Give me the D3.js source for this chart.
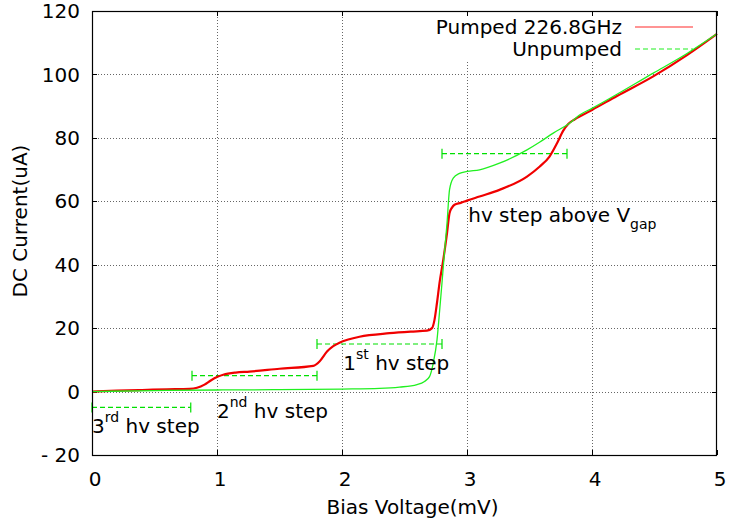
<!DOCTYPE html>
<html><head><meta charset="utf-8">
<script src="https://cdn.jsdelivr.net/npm/d3@7"></script>
<style>
html,body{margin:0;padding:0;background:#fff;}
svg text{font-family:"DejaVu Sans",sans-serif;fill:#000;}
</style></head>
<body><svg id="chart" width="729" height="523"></svg>
<script>
// ---- data ----
const pumpedV = [0,0.2,0.4,0.6,0.78,0.84,0.9,0.95,1.0,1.05,1.15,1.26,1.5,1.77,1.82,1.88,1.93,1.98,2.05,2.14,2.38,2.55,2.68,2.72,2.74,2.76,2.78,2.81,2.84,2.86,2.88,2.9,2.95,3.0,3.1,3.26,3.48,3.58,3.66,3.72,3.77,3.81,3.86,3.92,4.0,4.2,4.49,4.76,5.0];
const pumpedI = [0,0.3,0.5,0.7,0.85,1.2,2.2,3.5,4.6,5.3,6.0,6.3,7.2,8.1,9.5,12.6,14.3,15.4,16.4,17.3,18.4,18.9,19.2,20,22.6,28,34.2,41.5,49.9,56.2,58,58.9,59.5,60.2,61.5,63.6,67.8,70.9,74.1,78.3,82.3,84.4,85.8,87.1,88.8,93.2,99.4,106.1,112.8];
const unpumpedV = [0,0.5,1.0,1.5,2.0,2.3,2.46,2.6,2.66,2.7,2.73,2.76,2.78,2.8,2.82,2.84,2.86,2.89,2.94,3.0,3.1,3.26,3.48,3.58,3.69,3.82,3.9,4.0,4.49,4.76,5.0];
const unpumpedI = [0,0.3,0.5,0.6,0.8,1.0,1.4,2.2,3.2,4.7,9,16.3,25,34.3,44,53,63.6,67.3,68.8,69.4,69.9,72,76.2,78.6,81.5,84.6,87.2,89.3,100.4,106.6,112.8];
const seriesNames = ["Pumped 226.8GHz","Unpumped"];
const xTicks = [0,1,2,3,4,5];
const yTicks = [-20,0,20,40,60,80,100,120];
const yTickLabels = ["- 20","0","20","40","60","80","100","120"];
// step bars (start V, end V, current)
const barStart = [0,0.8,1.8,2.8];
const barEnd = [0.79,1.8,2.8,3.8];
const barLevel = [-5,5,15,75];
// annotation labels: main text, superscript/subscript, trailing text, anchor V, anchor I
const labelMain = ["3","2","1","hv step above V"];
const labelScript = ["rd","nd","st","gap"];
const labelTail = [" hv step"," hv step"," hv step",""];
const labelV = [0,1.0,2.01,3.01];
const labelI = [-13.1,-8.4,6.8,53.6];

// ---- layout ----
const svg = d3.select("#chart");
const L=92,R=717,T=11,B=455;
const x = d3.scaleLinear().domain([0,5]).range([L,R]);
const y = d3.scaleLinear().domain([-20,120]).range([B,T]);
const FS = 20;

// grid
const grid = svg.append("g").attr("stroke","#666").attr("stroke-width",1).attr("stroke-dasharray","1,2");
xTicks.slice(1,-1).forEach(v=>grid.append("line").attr("x1",x(v)+0.5).attr("x2",x(v)+0.5).attr("y1",T).attr("y2",B));
yTicks.slice(1,-1).forEach(v=>grid.append("line").attr("y1",Math.round(y(v))+0.5).attr("y2",Math.round(y(v))+0.5).attr("x1",L).attr("x2",R));

// legend background hides grid
svg.append("rect").attr("x",432).attr("y",T+1).attr("width",268).attr("height",49).attr("fill","#fff");

// ticks (mirrored, inward)
const tk = svg.append("g").attr("stroke","#000").attr("stroke-width",1);
xTicks.forEach(v=>{
  tk.append("line").attr("x1",x(v)+0.5).attr("x2",x(v)+0.5).attr("y1",B).attr("y2",B-5);
  tk.append("line").attr("x1",x(v)+0.5).attr("x2",x(v)+0.5).attr("y1",T).attr("y2",T+5);
});
yTicks.forEach(v=>{
  const yy=Math.round(y(v))+0.5;
  tk.append("line").attr("x1",L).attr("x2",L+5).attr("y1",yy).attr("y2",yy);
  tk.append("line").attr("x1",R).attr("x2",R-5).attr("y1",yy).attr("y2",yy);
});

// tick labels
xTicks.forEach(v=>svg.append("text").attr("x",x(v)+3).attr("y",B+31).attr("text-anchor","middle").attr("font-size",FS).text(v));
yTicks.forEach((v,i)=>svg.append("text").attr("x",L-12).attr("y",y(v)).attr("dy","0.36em").attr("text-anchor","end").attr("font-size",FS).text(yTickLabels[i]));

// axis titles
svg.append("text").attr("x",(L+R)/2+8).attr("y",514).attr("text-anchor","middle").attr("font-size",FS).text("Bias Voltage(mV)");
svg.append("text").attr("transform","translate(27,"+((T+B)/2-12)+") rotate(-90)").attr("text-anchor","middle").attr("font-size",FS).text("DC Current(uA)");

// step bars
const barG = svg.append("g").attr("stroke","#00e000").attr("stroke-width",1.2);
barLevel.forEach((lv,i)=>{
  const yy=y(lv);
  barG.append("line").attr("x1",x(barStart[i])).attr("x2",x(barEnd[i])).attr("y1",yy).attr("y2",yy).attr("stroke-dasharray","5,3");
  barG.append("line").attr("x1",x(barStart[i])).attr("x2",x(barStart[i])).attr("y1",yy-5).attr("y2",yy+5);
  barG.append("line").attr("x1",x(barEnd[i])).attr("x2",x(barEnd[i])).attr("y1",yy-5).attr("y2",yy+5);
});

// curves
const line = d3.line().x(d=>x(d[0])).y(d=>y(d[1])).curve(d3.curveMonotoneX);
const unp = unpumpedV.map((v,i)=>[v,unpumpedI[i]]);
const pum = pumpedV.map((v,i)=>[v,pumpedI[i]]);
svg.append("path").attr("d",line(pum)).attr("fill","none").attr("stroke","#f00000").attr("stroke-width",2.2);
svg.append("path").attr("d",line(unp)).attr("fill","none").attr("stroke","#20f020").attr("stroke-width",1.3);

// frame
svg.append("rect").attr("x",L+0.5).attr("y",T+0.5).attr("width",R-L-1).attr("height",B-T).attr("fill","none").attr("stroke","#000").attr("stroke-width",1.2);

// legend
const legY=[27,49];
const legColor=["#ff7070","#20f020"];
seriesNames.forEach((n,i)=>{
  svg.append("text").attr("x",622).attr("y",legY[i]).attr("dy","0.36em").attr("text-anchor","end").attr("font-size",FS).text(n);
  svg.append("line").attr("x1",635).attr("x2",693).attr("y1",legY[i]).attr("y2",legY[i]).attr("stroke",legColor[i]).attr("stroke-width",i===0?1.6:1.2).attr("stroke-dasharray",i===0?null:"5,3");
});

// annotations
labelMain.forEach((m,i)=>{
  const t = svg.append("text").attr("x",x(labelV[i])).attr("y",y(labelI[i])).attr("font-size",FS);
  t.append("tspan").text(m);
  const sup = i<3;
  t.append("tspan").attr("font-size",14).attr("dy",sup?-11:7).text(labelScript[i]);
  if(labelTail[i]) t.append("tspan").attr("dy",sup?11:-7).text(labelTail[i]);
});
</script></body></html>
